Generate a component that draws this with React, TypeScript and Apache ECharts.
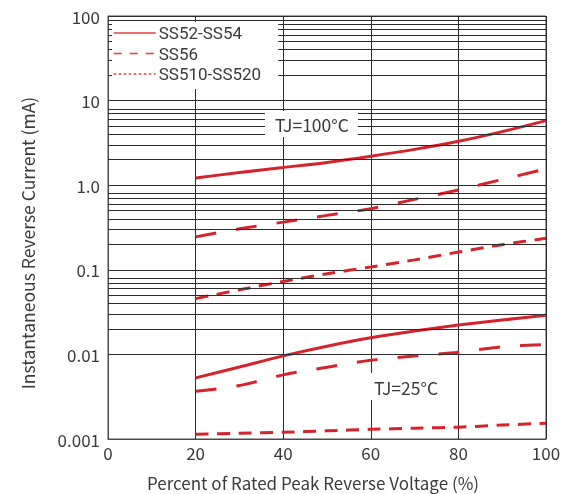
import React, { useEffect, useRef } from 'react';
import * as echarts from 'echarts';

// Percent of rated peak reverse voltage
const xValues = [20, 30, 40, 50, 60, 70, 80, 90, 100];

// TJ = 100°C
const ss52_100 = [1.22, 1.41, 1.62, 1.86, 2.2, 2.65, 3.3, 4.3, 5.8];
const ss56_100 = [0.245, 0.305, 0.366, 0.44, 0.528, 0.68, 0.879, 1.17, 1.56];
const ss510_100 = [0.0456, 0.058, 0.0728, 0.0898, 0.108, 0.131, 0.162, 0.198, 0.236];

// TJ = 25°C
const ss52_25 = [0.00528, 0.0071, 0.0096, 0.0125, 0.0157, 0.0189, 0.0222, 0.0255, 0.029];
const ss56_25 = [0.00366, 0.00428, 0.00573, 0.00706, 0.00855, 0.00955, 0.0106, 0.0123, 0.0131];
const ss510_25 = [0.00114, 0.00117, 0.0012, 0.00125, 0.0013, 0.00134, 0.00138, 0.00146, 0.00154];

const legendNames = ['SS52-SS54', 'SS56', 'SS510-SS520'];
const yTickLabels = ['0.001', '0.01', '0.1', '1.0', '10', '100'];
const xTickLabels = ['0', '20', '40', '60', '80', '100'];
const decades = [0.001, 0.01, 0.1, 1, 10];
const minorSteps = [2, 3, 4, 5, 6, 7, 8];
const extraMinor = [90];

const FONT = '"Noto Sans CJK SC", "Noto Sans", sans-serif';
const LEGEND_FONT = 'Roboto, "Noto Sans", sans-serif';
const RED = '#d6232b';
const TEXT = '#3a3a3a';
const GRID = '#2e2a2b';

const pairs = (vals: number[]) => xValues.map((x, i) => [x, vals[i]]);

export default function App() {
  const ref = useRef<HTMLDivElement>(null);
  useEffect(() => {
    if (!ref.current) return;
    const chart = echarts.init(ref.current, undefined, { renderer: 'svg' });
    const minorValues: number[] = [];
    decades.forEach((d) => minorSteps.forEach((s) => minorValues.push(d * s)));
    extraMinor.forEach((v) => minorValues.push(v));

    const dashTypes: any[] = ['solid', [21, 20], [13, 8.5]];
    const mk = (name: string, vals: number[], idx: number) => ({
      type: 'line',
      name,
      data: pairs(vals),
      smooth: 0.3,
      symbol: 'none',
      z: 3,
      lineStyle: { color: RED, width: 3, type: dashTypes[idx], cap: 'butt' },
      itemStyle: { color: RED },
    });

    chart.setOption({
      animation: false,
      grid: { left: 108, right: 30, top: 16, bottom: 55, show: true, borderColor: '#4a4a4a', borderWidth: 1, backgroundColor: 'transparent' },
      xAxis: {
        type: 'value',
        min: 0,
        max: 100,
        interval: 20,
        axisLine: { show: true, lineStyle: { color: '#4a4a4a', width: 1 } },
        axisTick: { show: false },
        splitLine: { show: true, lineStyle: { color: GRID, width: 1 } },
        axisLabel: {
          margin: 5,
          fontSize: 17,
          color: TEXT,
          fontFamily: FONT,
          formatter: (v: number) => xTickLabels[Math.round(v / 20)] ?? '',
        },
      },
      yAxis: {
        type: 'log',
        logBase: 10,
        min: 0.001,
        max: 100,
        splitNumber: 5,
        axisLine: { show: true, lineStyle: { color: '#4a4a4a', width: 1 } },
        axisTick: { show: false },
        minorTick: { show: false },
        splitLine: { show: true, lineStyle: { color: GRID, width: 1 } },
        axisLabel: {
          margin: 8,
          fontSize: 17,
          color: TEXT,
          fontFamily: FONT,
          formatter: (v: number) => yTickLabels[Math.round(Math.log10(v)) + 3] ?? '',
        },
      },
      legend: {
        data: legendNames.map((n, i) => ({
          name: n,
          itemStyle: { opacity: 0 },
          lineStyle: { color: '#e0403f', width: 1.5, type: i === 0 ? 'solid' : i === 1 ? [8, 8] : [2.5, 2.5] },
        })),
        orient: 'vertical',
        left: 112,
        top: 22,
        padding: [1, 17, 5, 1],
        itemWidth: 42,
        itemHeight: 16,
        itemGap: 0.5,
        backgroundColor: '#ffffff',
        textStyle: { fontSize: 17, lineHeight: 20, color: TEXT, fontFamily: LEGEND_FONT, padding: [0, 0, 0, -2] },
        selectedMode: false,
        z: 10,
      },
      graphic: [
        { type: 'rect', shape: { x: 265, y: 111, width: 93, height: 26 }, style: { fill: '#fff' }, z: 20 },
        {
          type: 'text', x: 312, y: 124, z: 21,
          style: { text: 'TJ=100°C', fontSize: 17.5, fill: TEXT, fontFamily: FONT, textAlign: 'center', textVerticalAlign: 'middle' },
        },
        { type: 'rect', shape: { x: 362, y: 373, width: 94, height: 27 }, style: { fill: '#fff' }, z: 20 },
        {
          type: 'text', x: 406, y: 387, z: 21,
          style: { text: 'TJ=25°C', fontSize: 17.5, fill: TEXT, fontFamily: FONT, textAlign: 'center', textVerticalAlign: 'middle' },
        },
        {
          type: 'text', x: 313, y: 482, z: 21,
          style: { text: 'Percent of Rated Peak Reverse Voltage (%)', fontSize: 17, fill: TEXT, fontFamily: FONT, textAlign: 'center', textVerticalAlign: 'middle' },
        },
        {
          type: 'text', x: 27, y: 243, rotation: Math.PI / 2, z: 21,
          style: { text: 'Instantaneous Reverse Current (mA)', fontSize: 17.5, fill: TEXT, fontFamily: FONT, textAlign: 'center', textVerticalAlign: 'middle' },
        },
      ],
      series: [
        {
          type: 'line',
          name: '__grid',
          data: [[0, 0.001]],
          symbol: 'none',
          z: 1,
          lineStyle: { opacity: 0 },
          silent: true,
          markLine: {
            silent: true,
            symbol: ['none', 'none'],
            label: { show: false },
            lineStyle: { color: GRID, width: 1, type: 'solid' },
            emphasis: { disabled: true },
            data: minorValues.map((v) => ({ yAxis: v })),
          },
        },
        mk(legendNames[0], ss52_100, 0),
        mk(legendNames[1], ss56_100, 1),
        mk(legendNames[2], ss510_100, 2),
        mk(legendNames[0], ss52_25, 0),
        mk(legendNames[1], ss56_25, 1),
        mk(legendNames[2], ss510_25, 2),
      ],
    });
    return () => chart.dispose();
  }, []);
  return <div ref={ref} style={{ position: 'fixed', left: 0, top: 0, width: 576, height: 494 }} />;
}
